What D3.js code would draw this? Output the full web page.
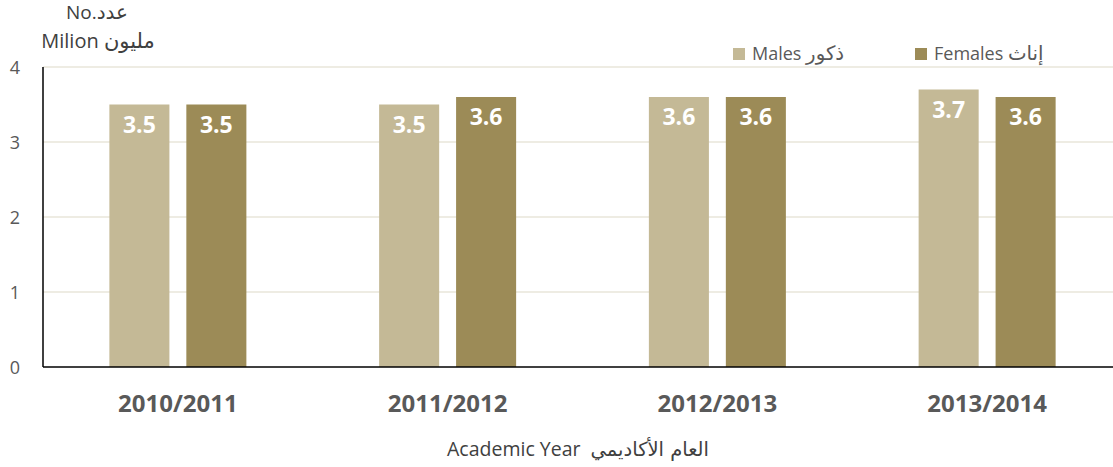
<!DOCTYPE html>
<html>
<head>
<meta charset="utf-8">
<script src="https://cdn.jsdelivr.net/npm/d3@7"></script>
<style>
  body { margin: 0; background: #fff; }
  svg { font-family: "Open Sans", "DejaVu Sans", sans-serif; }
  text { white-space: pre; }
  .ar { font-family: "DejaVu Sans", sans-serif; }
</style>
</head>
<body>
<svg id="chart" width="1113" height="467"></svg>
<script>
const years = ['2010/2011', '2011/2012', '2012/2013', '2013/2014']
const males = [3.5, 3.5, 3.6, 3.7]
const females = [3.5, 3.6, 3.6, 3.6]
const yTicks = [0, 1, 2, 3, 4]
const seriesEn = ['Males', 'Females']
const seriesAr = ['ذكور', 'إناث']
const colors = ['#c4b996', '#9c8b57']

let svg = d3.select('#chart')
let plotLeft = 43, plotRight = 1122, plotTop = 67, plotBottom = 367

let x = d3.scaleBand().domain(years).range([plotLeft, plotRight])
let x1 = d3.scaleBand().domain([0, 1]).range([-68.5, 68.5]).paddingInner(0.22)
let y = d3.scaleLinear().domain([0, 4]).range([plotBottom, plotTop])

// mixed english / arabic label
function biText(sel, en, ar, size, arScale) {
  let t = sel.append('text').attr('font-size', size)
  t.append('tspan').text(en)
  t.append('tspan').text(ar)
    .attr('class', 'ar')
    .attr('font-size', size * (arScale || 1))
  return t
}

// gridlines
svg.append('g')
  .selectAll('line')
  .data(yTicks.filter(t => t > 0))
  .enter().append('line')
  .attr('x1', plotLeft).attr('x2', 1113)
  .attr('y1', d => y(d)).attr('y2', d => y(d))
  .attr('stroke', '#e8e6da')
  .attr('stroke-width', 1.5)

// y tick labels
svg.append('g')
  .selectAll('text')
  .data(yTicks)
  .enter().append('text')
  .attr('x', 15).attr('y', d => y(d) + 7)
  .attr('text-anchor', 'middle')
  .attr('font-size', 18)
  .attr('fill', '#595959')
  .text(d => d)

let series = [males, females]
let bars = []
years.forEach((yr, i) => {
  series.forEach((s, k) => bars.push({ yr: yr, k: k, v: s[i] }))
})

let barX = d => x(d.yr) + x.bandwidth() / 2 + x1(d.k)

svg.append('g')
  .selectAll('rect')
  .data(bars)
  .enter().append('rect')
  .attr('x', barX)
  .attr('width', x1.bandwidth())
  .attr('y', d => y(d.v))
  .attr('height', d => plotBottom - y(d.v))
  .attr('fill', d => colors[d.k])

svg.append('g')
  .selectAll('text')
  .data(bars)
  .enter().append('text')
  .attr('x', d => barX(d) + x1.bandwidth() / 2)
  .attr('y', d => y(d.v) + 28)
  .attr('text-anchor', 'middle')
  .attr('font-size', 23)
  .attr('font-weight', 'bold')
  .attr('fill', '#fff')
  .text(d => d.v.toFixed(1))

// axes lines
svg.append('line')
  .attr('x1', plotLeft).attr('x2', plotLeft)
  .attr('y1', plotTop).attr('y2', plotBottom)
  .attr('stroke', '#000').attr('stroke-width', 1.5)
svg.append('line')
  .attr('x1', plotLeft).attr('x2', 1113)
  .attr('y1', plotBottom).attr('y2', plotBottom)
  .attr('stroke', '#000').attr('stroke-width', 1.5)

// category labels
svg.append('g')
  .selectAll('text')
  .data(years)
  .enter().append('text')
  .attr('x', d => x(d) + x.bandwidth() / 2)
  .attr('y', 412)
  .attr('text-anchor', 'middle')
  .attr('font-size', 24)
  .attr('font-weight', 'bold')
  .attr('fill', '#595959')
  .text(d => d)

// axis titles
biText(svg, 'Academic Year  ', 'العام الأكاديمي', 19.5, 1)
  .attr('x', 578).attr('y', 456)
  .attr('text-anchor', 'middle')
  .attr('fill', '#404040')

biText(svg, 'No.', 'عدد', 19, 1.05)
  .attr('x', 97).attr('y', 19)
  .attr('text-anchor', 'middle')
  .attr('fill', '#404040')
biText(svg, 'Milion ', 'مليون', 20, 1.05)
  .attr('x', 98).attr('y', 48)
  .attr('text-anchor', 'middle')
  .attr('fill', '#404040')

// legend
let legendX = [733, 915]
let legend = svg.append('g')
  .selectAll('g')
  .data(seriesEn)
  .enter().append('g')
  .attr('transform', (d, i) => `translate(${legendX[i]},48)`)
legend.append('rect')
  .attr('width', 12).attr('height', 12)
  .attr('fill', (d, i) => colors[i])
legend.each(function (d, i) {
  biText(d3.select(this), d + ' ', seriesAr[i], 18, 1.1)
    .attr('x', 19).attr('y', 12)
    .attr('fill', '#595959')
})
</script>
</body>
</html>
